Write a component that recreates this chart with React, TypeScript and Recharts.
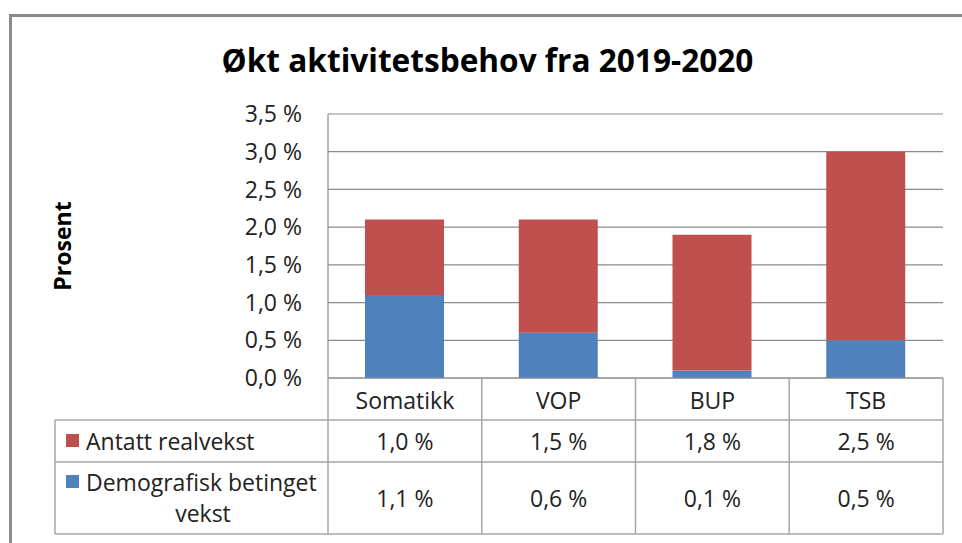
import React from 'react';
import { BarChart, Bar, XAxis, YAxis, CartesianGrid } from 'recharts';

const categories = ['Somatikk', 'VOP', 'BUP', 'TSB'];
const realvekst = [1.0, 1.5, 1.8, 2.5];
const demografisk = [1.1, 0.6, 0.1, 0.5];
const yTicks = [0, 0.5, 1.0, 1.5, 2.0, 2.5, 3.0, 3.5];
const seriesReal = 'Antatt realvekst';
const seriesDemoLine1 = 'Demografisk betinget';
const seriesDemoLine2 = 'vekst';
const title = 'Økt aktivitetsbehov fra 2019-2020';
const yLabel = 'Prosent';

const RED = '#C0504D';
const BLUE = '#4F81BD';
const GRID = '#8c8c8c';
const TABLE = '#a6a6a6';
const FONT = '"Open Sans", sans-serif';
const FS = 23;
const TXT = '#222';

const data = categories.map((c, i) => ({ name: c, real: realvekst[i], demo: demografisk[i] }));

const fmt = (v: number) => `${v.toFixed(1).replace('.', ',')} %`;

function TableTick(props: any) {
  const { x, y, payload, index } = props;
  const half = payload && payload.offset ? payload.offset : 76.875;
  const left = x - half;
  const right = x + half;
  const r1 = y + 42;
  const r2 = y + 84;
  const r3 = y + 156;
  const isLast = index === categories.length - 1;
  const tableLeft = 55;
  return (
    <g>
      <line x1={left} y1={y} x2={left} y2={r3} stroke={TABLE} strokeWidth={1.5} />
      {isLast && <line x1={right} y1={y} x2={right} y2={r3} stroke={TABLE} strokeWidth={1.5} />}
      <line x1={left} y1={r1} x2={right} y2={r1} stroke={TABLE} strokeWidth={1.5} />
      <line x1={left} y1={r2} x2={right} y2={r2} stroke={TABLE} strokeWidth={1.5} />
      <line x1={left} y1={r3} x2={right} y2={r3} stroke={TABLE} strokeWidth={1.5} />
      <text x={x} y={y + 22} textAnchor="middle" dominantBaseline="central" fontSize={FS} fontFamily={FONT} fill={TXT}>
        {payload.value}
      </text>
      <text x={x} y={(r1 + r2) / 2} textAnchor="middle" dominantBaseline="central" fontSize={FS} fontFamily={FONT} fill={TXT}>
        {fmt(realvekst[index])}
      </text>
      <text x={x} y={(r2 + r3) / 2} textAnchor="middle" dominantBaseline="central" fontSize={FS} fontFamily={FONT} fill={TXT}>
        {fmt(demografisk[index])}
      </text>
      {index === 0 && (
        <g>
          <line x1={tableLeft} y1={r1} x2={left} y2={r1} stroke={TABLE} strokeWidth={1.5} />
          <line x1={tableLeft} y1={r2} x2={left} y2={r2} stroke={TABLE} strokeWidth={1.5} />
          <line x1={tableLeft} y1={r3} x2={left} y2={r3} stroke={TABLE} strokeWidth={1.5} />
          <line x1={tableLeft} y1={r1} x2={tableLeft} y2={r3} stroke={TABLE} strokeWidth={1.5} />
          <rect x={66} y={r1 + 14} width={13} height={13} fill={RED} />
          <text x={86} y={(r1 + r2) / 2} dominantBaseline="central" fontSize={FS} fontFamily={FONT} fill={TXT}>
            {seriesReal}
          </text>
          <rect x={66} y={r2 + 13} width={13} height={13} fill={BLUE} />
          <text x={86} y={r2 + 20} dominantBaseline="central" fontSize={FS} fontFamily={FONT} fill={TXT}>
            {seriesDemoLine1}
          </text>
          <text x={203} y={r2 + 51} textAnchor="middle" dominantBaseline="central" fontSize={FS} fontFamily={FONT} fill={TXT}>
            {seriesDemoLine2}
          </text>
        </g>
      )}
    </g>
  );
}

export default function App() {
  return (
    <div style={{ position: 'absolute', left: 0, top: 0, width: 962, height: 543, background: '#fff', overflow: 'hidden' }}>
      <div
        style={{
          position: 'absolute',
          left: 9,
          top: 14,
          width: 1000,
          height: 600,
          borderLeft: '3px solid #8a8a8a',
          borderTop: '3px solid #8a8a8a',
        }}
      />
      <div
        style={{
          position: 'absolute',
          left: 0,
          width: 975,
          top: 60,
          transform: 'translateY(-50%)',
          textAlign: 'center',
          fontFamily: FONT,
          fontWeight: 700,
          fontSize: 31.6,
          lineHeight: '40px',
          color: '#000',
        }}
      >
        {title}
      </div>
      <div
        style={{
          position: 'absolute',
          left: 62,
          top: 246,
          transform: 'translate(-50%, -50%) rotate(-90deg)',
          fontFamily: FONT,
          fontWeight: 700,
          fontSize: 23,
          lineHeight: '26px',
          color: '#000',
          whiteSpace: 'nowrap',
        }}
      >
        {yLabel}
      </div>
      <div style={{ position: 'absolute', left: 0, top: 0 }}>
        <BarChart
          width={962}
          height={543}
          data={data}
          margin={{ top: 114, right: 19, bottom: 135, left: 268 }}
          barSize={79}
        >
          <CartesianGrid horizontal vertical={false} stroke={GRID} strokeWidth={1.2} />
          <XAxis
            dataKey="name"
            height={30}
            tickSize={0}
            tickMargin={0}
            axisLine={{ stroke: GRID, strokeWidth: 1.2 }}
            tickLine={false}
            interval={0}
            tick={<TableTick />}
          />
          <YAxis
            width={60}
            domain={[0, 3.5]}
            ticks={yTicks}
            tickFormatter={fmt}
            tickSize={0}
            tickMargin={26}
            tickLine={false}
            axisLine={{ stroke: GRID, strokeWidth: 1.2 }}
            tick={{ fontSize: FS, fontFamily: FONT, fill: TXT }}
          />
          <Bar dataKey="demo" stackId="a" fill={BLUE} isAnimationActive={false} />
          <Bar dataKey="real" stackId="a" fill={RED} isAnimationActive={false} />
        </BarChart>
      </div>
    </div>
  );
}
